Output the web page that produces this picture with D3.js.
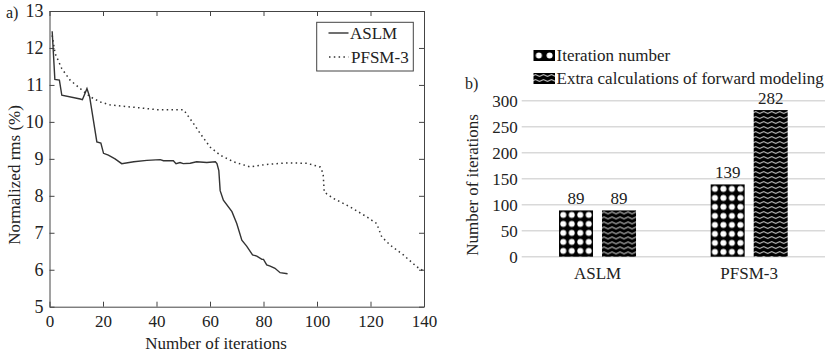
<!DOCTYPE html>
<html>
<head>
<meta charset="utf-8">
<script src="https://cdn.jsdelivr.net/npm/d3@7"></script>
<style>
  body { margin: 0; background: #fff; }
  svg text { font-family: "Liberation Serif", "Times New Roman", Times, serif !important; fill: #222; }
</style>
</head>
<body>
<svg id="chart" width="835" height="353"></svg>
<script>
// a) convergence curves
var aslmIter = [1, 2, 3.7, 4.6, 11.5, 12.3, 14, 15, 17.7, 19.2, 20.2, 22, 24.5, 27, 31.5, 36.4, 41.4, 42.6, 46.3, 47.3, 48.8, 50, 52.6, 55, 58.8, 62, 62.6, 63.3, 63.8, 65, 68.2, 70, 71.9, 73.7, 75.9, 77.5, 79.4, 80, 81.2, 82.5, 84.3, 86.2, 89];
var aslmRms  = [12.45, 11.15, 11.13, 10.72, 10.62, 10.6, 10.9, 10.68, 9.46, 9.43, 9.15, 9.1, 9.0, 8.87, 8.92, 8.96, 8.98, 8.95, 8.95, 8.87, 8.9, 8.87, 8.88, 8.92, 8.9, 8.92, 8.87, 8.68, 8.14, 7.88, 7.57, 7.25, 6.8, 6.64, 6.4, 6.37, 6.28, 6.28, 6.13, 6.1, 6.04, 5.92, 5.89];
var pfsmIter = [1, 2.1, 4.6, 7.7, 11.5, 15.2, 18.9, 22.6, 27.7, 33.9, 40.1, 50, 50.7, 53.8, 56.3, 60, 63.8, 68.8, 75, 81.2, 88.7, 96.2, 101.2, 102.3, 102.7, 106.1, 112.4, 118.6, 122.3, 124.2, 127.3, 132.3, 137.3, 139.5];
var pfsmRms  = [12.34, 11.85, 11.44, 11.13, 10.9, 10.68, 10.54, 10.46, 10.42, 10.38, 10.33, 10.33, 10.27, 9.96, 9.69, 9.32, 9.1, 8.92, 8.78, 8.85, 8.89, 8.88, 8.78, 8.6, 8.1, 7.93, 7.7, 7.43, 7.25, 6.89, 6.67, 6.4, 6.08, 5.98];
var xTicksA = [0, 20, 40, 60, 80, 100, 120, 140];
var yTicksA = [5, 6, 7, 8, 9, 10, 11, 12, 13];

// b) bar chart
var methods = ["ASLM", "PFSM-3"];
var seriesNames = ["Iteration number", "Extra calculations of forward modeling"];
var iterationNumber = [89, 139];
var extraCalcs = [89, 282];
var yTicksB = [0, 50, 100, 150, 200, 250, 300];

var serif = '"Liberation Serif", "Times New Roman", Times, serif';
var svg = d3.select("#chart");
var defs = svg.append("defs");

// white dots on black, anchored at (x, y)
function dotPattern(id, x, y, w, h, r) {
  var p = defs.append("pattern").attr("id", id).attr("patternUnits", "userSpaceOnUse")
    .attr("x", x).attr("y", y).attr("width", w).attr("height", h);
  p.append("rect").attr("width", w).attr("height", h).attr("fill", "#000");
  p.append("circle").attr("cx", w / 2).attr("cy", h / 2).attr("r", r).attr("fill", "#fff");
  return "url(#" + id + ")";
}
// white waves on black, anchored at (x, y)
function wavePattern(id, x, y) {
  var p = defs.append("pattern").attr("id", id).attr("patternUnits", "userSpaceOnUse")
    .attr("x", x).attr("y", y).attr("width", 8).attr("height", 5);
  p.append("rect").attr("width", 8).attr("height", 5).attr("fill", "#000");
  p.append("path").attr("d", "M0,2.5 Q2,0.6 4,2.5 T8,2.5")
    .attr("fill", "none").attr("stroke", "#fff").attr("stroke-width", 0.9);
  return "url(#" + id + ")";
}

// ---------- a) ----------
var xA = d3.scaleLinear().domain([0, 140]).range([49.5, 424]);
var yA = d3.scaleLinear().domain([5, 13]).range([306.7, 11]);

var gA = svg.append("g");

gA.append("g").attr("transform", "translate(0,306.7)")
  .call(d3.axisBottom(xA).tickValues(xTicksA).tickSizeInner(-5).tickSizeOuter(0).tickPadding(8))
  .call(g => g.selectAll("text").style("font-size", "17px"));
gA.append("g").attr("transform", "translate(0,11)")
  .call(d3.axisTop(xA).tickValues(xTicksA).tickSizeInner(-5).tickSizeOuter(0).tickFormat(""));
gA.append("g").attr("transform", "translate(49.5,0)")
  .call(d3.axisLeft(yA).tickValues(yTicksA).tickSizeInner(-5).tickSizeOuter(0).tickPadding(6))
  .call(g => g.selectAll("text").style("font-size", "18px"));
gA.append("g").attr("transform", "translate(424,0)")
  .call(d3.axisRight(yA).tickValues(yTicksA).tickSizeInner(-5).tickSizeOuter(0).tickFormat(""));
gA.selectAll(".domain, .tick line").attr("stroke", "#444");

var lineA = d3.line().x(d => xA(d[0])).y(d => yA(d[1]));
gA.append("path").datum(d3.zip(aslmIter, aslmRms)).attr("d", lineA)
  .attr("fill", "none").attr("stroke", "#333").attr("stroke-width", 1.4);
gA.append("path").datum(d3.zip(pfsmIter, pfsmRms)).attr("d", lineA)
  .attr("fill", "none").attr("stroke", "#333").attr("stroke-width", 1.5)
  .attr("stroke-dasharray", "1.5,3.3");

// legend
var legA = gA.append("g");
legA.append("rect").attr("x", 316.7).attr("y", 22.3).attr("width", 96.6).attr("height", 48.7)
  .attr("fill", "#fff").attr("stroke", "#444").attr("stroke-width", 1);
legA.append("line").attr("x1", 328.5).attr("x2", 348.5).attr("y1", 33).attr("y2", 33)
  .attr("stroke", "#333").attr("stroke-width", 1.4);
legA.append("line").attr("x1", 329).attr("x2", 348.5).attr("y1", 57).attr("y2", 57)
  .attr("stroke", "#333").attr("stroke-width", 1.5).attr("stroke-dasharray", "1.5,3.3");
legA.append("text").attr("x", 350).attr("y", 39).style("font-size", "17px").text("ASLM");
legA.append("text").attr("x", 351).attr("y", 63).style("font-size", "17px").text("PFSM-3");

gA.append("text").attr("x", 6).attr("y", 18).style("font-size", "16px").text("a)");
gA.append("text").attr("x", 216).attr("y", 349).attr("text-anchor", "middle")
  .style("font-size", "17px").text("Number of iterations");
gA.append("text").attr("transform", "translate(20,175) rotate(-90)").attr("text-anchor", "middle")
  .style("font-size", "17px").text("Normalized rms (%)");

// ---------- b) ----------
var xB = d3.scaleBand().domain(methods).range([521.7, 825]);
var xSub = d3.scaleBand().domain(seriesNames).range([-38.5, 38.5]).paddingInner(0.21);
var yB = d3.scaleLinear().domain([0, 300]).range([256.7, 100.7]);

var gB = svg.append("g");

gB.selectAll(".grid").data(yTicksB).enter().append("line")
  .attr("x1", 521.7).attr("x2", 825)
  .attr("y1", d => yB(d)).attr("y2", d => yB(d))
  .attr("stroke", "#d9d9d9").attr("stroke-width", 1.5);

gB.append("g").attr("transform", "translate(521.7,0)")
  .call(d3.axisLeft(yB).tickValues(yTicksB).tickSize(0).tickPadding(4))
  .call(g => g.select(".domain").remove())
  .call(g => g.selectAll("text").style("font-size", "17px"));

gB.append("g").attr("transform", "translate(0,256.7)")
  .call(d3.axisBottom(xB).tickSize(0).tickPadding(10))
  .call(g => g.select(".domain").remove())
  .call(g => g.selectAll("text").style("font-size", "17px"));

var barData = [];
methods.forEach(function (m, i) {
  barData.push({ method: m, s: 0, value: iterationNumber[i] });
  barData.push({ method: m, s: 1, value: extraCalcs[i] });
});
barData.forEach(function (d, i) {
  d.x = xB(d.method) + xB.bandwidth() / 2 + xSub(seriesNames[d.s]);
  d.y = yB(d.value);
  d.fill = d.s === 0 ? dotPattern("dots" + i, d.x, d.y, xSub.bandwidth() / 4, 9, 3.0)
                     : wavePattern("waves" + i, d.x, d.y);
});

var bars = gB.selectAll(".bar").data(barData).enter().append("g");
bars.append("rect")
  .attr("x", d => d.x)
  .attr("width", xSub.bandwidth())
  .attr("y", d => d.y)
  .attr("height", d => yB(0) - d.y)
  .attr("fill", d => d.fill);
bars.append("text")
  .attr("x", d => d.x + xSub.bandwidth() / 2)
  .attr("y", d => d.y - 6)
  .attr("text-anchor", "middle").style("font-size", "17px")
  .text(d => d.value);

// legend
var legB = gB.append("g");
var legFills = [dotPattern("dotsLeg", 533.5, 50, 10.75, 11, 3.0), wavePattern("wavesLeg", 533.5, 73)];
seriesNames.forEach(function (s, i) {
  legB.append("rect").attr("x", 533.5).attr("y", 50 + i * 23).attr("width", 21.5).attr("height", 11)
    .attr("fill", legFills[i]);
  legB.append("text").attr("x", 556.5).attr("y", 60.5 + i * 23).style("font-size", "17px").text(s);
});

gB.append("text").attr("x", 465).attr("y", 89).style("font-size", "16px").text("b)");
gB.append("text").attr("transform", "translate(478,185) rotate(-90)").attr("text-anchor", "middle")
  .style("font-size", "17px").text("Number of iterations");

svg.selectAll("g").attr("font-family", serif);
</script>
</body>
</html>
